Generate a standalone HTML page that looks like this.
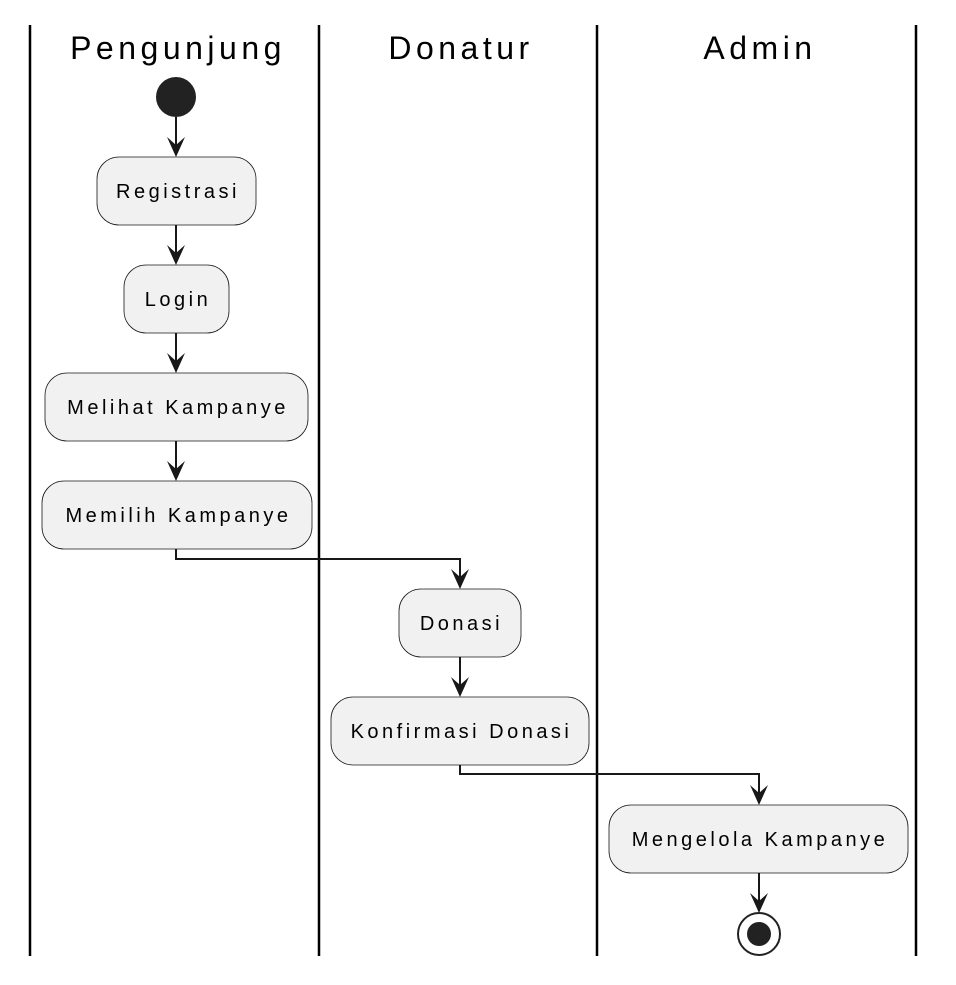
<!DOCTYPE html>
<html><head><style>body{margin:0;background:#fff}</style></head><body>
<svg width="956" height="980" xmlns="http://www.w3.org/2000/svg" font-family="Liberation Sans, sans-serif">
<g stroke="#000" stroke-width="2.5">
<line x1="30" y1="25" x2="30" y2="956"/><line x1="319" y1="25" x2="319" y2="956"/>
<line x1="597" y1="25" x2="597" y2="956"/><line x1="916" y1="25" x2="916" y2="956"/>
</g>
<g font-size="32" text-anchor="middle" letter-spacing="4.5" fill="#000">
<text x="178" y="59">Pengunjung</text><text x="461" y="59">Donatur</text><text x="760" y="59">Admin</text>
</g>
<circle cx="176" cy="97" r="20" fill="#222"/>
<g stroke="#181818" stroke-width="2" fill="none">
<path d="M176 117V155M176 225V263M176 333V371M176 441V479"/>
<path d="M176 549V559H460V587"/><path d="M460 657V695"/>
<path d="M460 765V774H759V803"/><path d="M759 873V911"/>
</g>
<g fill="#181818">
<path d="M167 137L176 157L185 137L176 145Z"/>
<path d="M167 245L176 265L185 245L176 253Z"/>
<path d="M167 353L176 373L185 353L176 361Z"/>
<path d="M167 461L176 481L185 461L176 469Z"/>
<path d="M451 569L460 589L469 569L460 577Z"/>
<path d="M451 677L460 697L469 677L460 685Z"/>
<path d="M750 785L759 805L768 785L759 793Z"/>
<path d="M750 893L759 913L768 893L759 901Z"/>
</g>
<g fill="#F1F1F1" stroke="#181818" stroke-width="0.8">
<rect x="97" y="157" width="159" height="68" rx="22"/>
<rect x="124" y="265" width="105" height="68" rx="22"/>
<rect x="45" y="373" width="263" height="68" rx="22"/>
<rect x="42" y="481" width="270" height="68" rx="22"/>
<rect x="399" y="589" width="122" height="68" rx="22"/>
<rect x="331" y="697" width="258" height="68" rx="22"/>
<rect x="609" y="805" width="299" height="68" rx="22"/>
</g>
<g font-size="20" text-anchor="middle" letter-spacing="3.5" fill="#000">
<text x="178" y="198">Registrasi</text>
<text x="178" y="306">Login</text>
<text x="178" y="414">Melihat Kampanye</text>
<text x="178.5" y="522">Memilih Kampanye</text>
<text x="461.5" y="630">Donasi</text>
<text x="461.5" y="738">Konfirmasi Donasi</text>
<text x="760" y="846">Mengelola Kampanye</text>
</g>
<circle cx="759" cy="934" r="21" fill="none" stroke="#222" stroke-width="2"/>
<circle cx="759" cy="934" r="12" fill="#222"/>
</svg>
</body></html>
